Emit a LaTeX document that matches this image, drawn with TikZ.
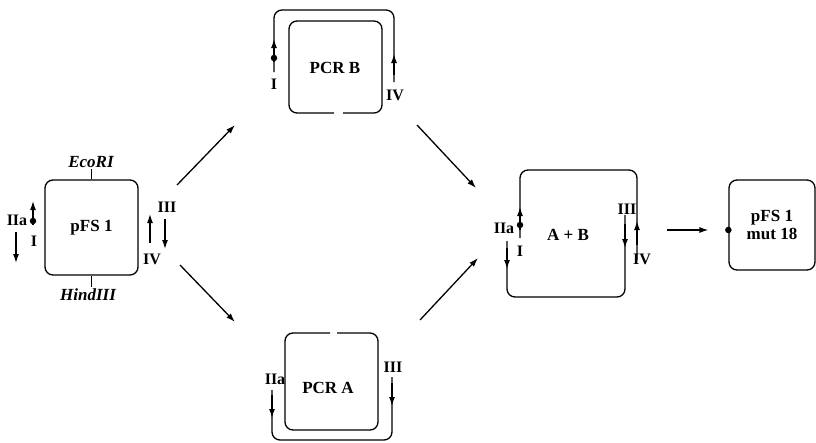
\documentclass[tikz,border=0pt]{standalone}
\usepackage{fontspec}
\setmainfont{Liberation Serif}
\usetikzlibrary{arrows.meta}

\tikzset{
  >={Latex[length=9pt,width=6pt]},
  plasmid/.style={draw, rounded corners=8pt, minimum width=93pt, minimum height=95pt,
    font=\fontsize{17}{18}\selectfont\bfseries, align=center},
  title/.style={font=\fontsize{17}{19}\selectfont\bfseries, inner sep=1pt},
  primer/.style={font=\fontsize{16}{18}\selectfont\bfseries, inner sep=1pt},
  site/.style={font=\fontsize{17}{19}\selectfont\bfseries\itshape, inner sep=1pt},
  dot/.style={circle, fill, inner sep=0pt, minimum size=6.5pt},
  strand/.style={rounded corners=8pt},
}

\begin{document}
\begin{tikzpicture}[x=1pt, y=-1pt, line width=1.3pt]
  \useasboundingbox (0,0) rectangle (816,442);

  % Starting plasmid
  \node[plasmid] (pfs) at (91.5,227.5) {pFS 1};
  \node[site] (ecori) at (91,162) {EcoRI};
  \node[site] (hind) at (88,295) {HindIII};
  \draw (pfs.north) -- (pfs.north |- ecori.south);
  \draw (pfs.south) -- (pfs.south |- hind.north);

  % Primers on pFS 1
  \draw[->] (33,225) -- (33,201);
  \node[dot] (pfsdot) at (33,221) {};
  \draw[->] (16,232) -- (16,263);
  \node[primer] (pfsIIa) at (17,220) {IIa};
  \node[primer] (pfsI) at (34,241) {I};
  \draw[->] (150,243) -- (150,214);
  \draw[->] (165,219) -- (165,249);
  \node[primer] (pfsIII) at (167,207) {III};
  \node[primer] (pfsIV) at (152,259) {IV};

  % PCR B
  \node[title] (pcrb) at (335,68) {PCR B};
  \draw[strand] (343,113) -- (382,113) -- (382,21) -- (289,21) -- (289,113) -- (334,113);
  \draw[strand] (274,72) -- (274,10) -- (394,10) -- (394,82);
  \draw[->] (274,62) -- (274,39);
  \node[dot] (pcrbdot) at (274,58) {};
  \draw[->] (394,75) -- (394,54);
  \node[primer] (pcrbI) at (274,84) {I};
  \node[primer] (pcrbIV) at (395,95) {IV};

  % PCR A
  \node[title] (pcra) at (328,388) {PCR A};
  \draw[strand] (330,333) -- (285,333) -- (285,430) -- (378,430) -- (378,333) -- (337,333);
  \draw[strand] (272,390) -- (272,440) -- (392,440) -- (392,377);
  \draw[->] (272,395) -- (272,418);
  \draw[->] (392,383) -- (392,406);
  \node[primer] (pcraIIa) at (275,379) {IIa};
  \node[primer] (pcraIII) at (393,367) {III};

  % A + B
  \node[title] (ab) at (568,235) {A + B};
  \draw[strand] (520,238) -- (520,170) -- (637,170) -- (637,260);
  \draw[strand] (507,241) -- (507,297) -- (625,297) -- (625,215);
  \draw[->] (520,230) -- (520,207);
  \node[dot] (abdot) at (520,225) {};
  \draw[->] (637,245) -- (637,221);
  \draw[->] (507,248) -- (507,269);
  \draw[->] (625,224) -- (625,248);
  \node[primer] (abIIa) at (504,228) {IIa};
  \node[primer] (abI) at (520,251) {I};
  \node[primer] (abIII) at (627,209) {III};
  \node[primer] (abIV) at (642,259) {IV};

  % Mutant
  \node[plasmid, minimum width=86pt, minimum height=90pt] (mut) at (772,225) {pFS 1\\mut 18};
  \node[dot] (mutdot) at ([yshift=-5pt]mut.west) {};

  % Steps
  \coordinate (s1) at (177,185);
  \coordinate (s2) at (235,125);
  \coordinate (s3) at (180,265);
  \coordinate (s4) at (235,322);
  \coordinate (s5) at (417,125);
  \coordinate (s6) at (476,188);
  \coordinate (s7) at (420,320);
  \coordinate (s8) at (478,258);
  \coordinate (s9) at (667,230);
  \draw[->] (s1) -- (s2);
  \draw[->] (s3) -- (s4);
  \draw[->] (s5) -- (s6);
  \draw[->] (s7) -- (s8);
  \draw[->, shorten >=16pt] (s9) -- (mutdot.west);
\end{tikzpicture}
\end{document}
